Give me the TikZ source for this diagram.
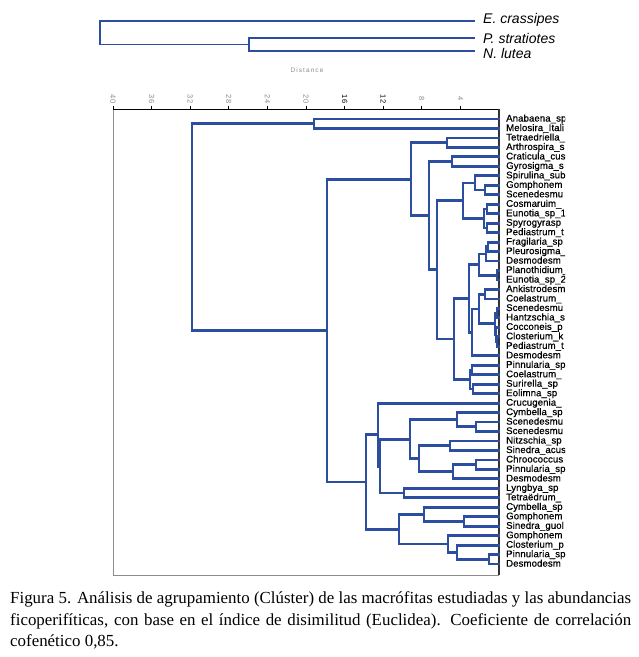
\documentclass[tikz,border=0pt]{standalone}
\usepackage{fontspec}
\setmainfont{Liberation Serif}
\newfontfamily\sansf{Liberation Sans}
\newfontfamily\leaff[LetterSpace=1,FakeBold=0.6]{Liberation Sans}
\usetikzlibrary{calc}
\definecolor{dblue}{RGB}{44,78,160}
\definecolor{axgray}{RGB}{140,140,140}
\newcommand\dn[4]{%
  \coordinate (tmpm) at ($(#3)!.5!(#4)$);
  \coordinate (tmpx) at (#2,0);
  \coordinate (#1) at (tmpx |- tmpm);
  \draw[dend] (#3) -| (#1) |- (#4);
}
\tikzset{
  dend/.style={draw=dblue, line width=2.8pt, line join=miter, line cap=rect},
  topd/.style={draw=dblue, line width=1.9pt, line cap=rect},
  leaf/.style={anchor=west, inner sep=0pt, text height=6.9pt, text depth=1.8pt, font=\leaff\fontsize{9.6}{10}\selectfont},
  toplab/.style={anchor=west, inner sep=0pt, font=\sansf\itshape\fontsize{14}{16}\selectfont},
  ticklab/.style={inner sep=0pt, text=axgray, rotate=-90, font=\sansf\fontsize{7.5}{8}\selectfont},
  capline/.style={anchor=base west, inner sep=0pt, font=\fontsize{16.9}{19}\selectfont},
}
\begin{document}
\begin{tikzpicture}[x=1pt,y=-1pt]
\useasboundingbox[fill=white] (0,0) rectangle (639,657);
% ---- top dendrogram ----
\coordinate (E) at (474,21);
\coordinate (P) at (474,38);
\coordinate (N) at (474,51);
\node[toplab] (tE) at (483,20) {E. crassipes};
\node[toplab] (tP) at (483,38) {P. stratiotes};
\node[toplab] (tN) at (483,53) {N. lutea};
\coordinate (tpx) at (249,0);
\coordinate (tpm) at ($(P)!.5!(N)$);
\coordinate (tp) at (tpx |- tpm);
\draw[topd] (P) -| (tp) |- (N);
\coordinate (trx) at (100,0);
\coordinate (trm) at ($(E)!.5!(tp)$);
\coordinate (tr) at (trx |- trm);
\draw[topd] (E) -| (tr) |- (tp);
\node[inner sep=0pt, text=axgray, font=\sansf\fontsize{6.5}{7}\selectfont] (dist) at (307,70) {D\,i\,s\,t\,a\,n\,c\,e};
% ---- frame and axis ----
\draw[axgray, line width=0.8pt] (113,109) -- (113,575) -- (499,575);
\draw[black, line width=1pt] (113,109) -- (499,109);
\draw[black!80, line width=1.2pt] (499,109) -- (499,575);
\foreach \d in {4,8,...,40} {
  \draw[black, line width=0.8pt] ({499-\d*9.65},109) -- ({499-\d*9.65},105.5);
}
\foreach \d/\c in {4/axgray,8/axgray,12/black,16/black,20/axgray,24/axgray,28/axgray,32/axgray,36/axgray,40/axgray} {
  \node[ticklab, text=\c] (tk\d) at ({499-\d*9.65},99) {\d};
}
% ---- leaves ----
\begin{scope}
\clip (503,105) rectangle (565,580);
\foreach \i/\t in {1/Anabaena\_sp,2/Melosira\_Itali,3/Tetraedriella\_,4/Arthrospira\_s,5/Craticula\_cus,6/Gyrosigma\_s,7/Spirulina\_sub,8/Gomphonem,9/Scenedesmu,10/Cosmaruim\_,11/Eunotia\_sp\_1,12/Spyrogyrasp,13/Pediastrum\_t,14/Fragilaria\_sp,15/Pleurosigma\_,16/Desmodesm,17/Planothidium\_,18/Eunotia\_sp\_2,19/Ankistrodesm,20/Coelastrum\_,21/Scenedesmu,22/Hantzschia\_s,23/Cocconeis\_p,24/Closterium\_k,25/Pediastrum\_t,26/Desmodesm,27/Pinnularia\_sp,28/Coelastrum\_,29/Surirella\_sp,30/Eolimna\_sp,31/Crucugenia\_,32/Cymbella\_sp,33/Scenedesmu,34/Scenedesmu,35/Nitzschia\_sp,36/Sinedra\_acus,37/Chroococcus,38/Pinnularia\_sp,39/Desmodesm,40/Lyngbya\_sp,41/Tetraëdrum\_,42/Cymbella\_sp,43/Gomphonem,44/Sinedra\_guol,45/Gomphonem,46/Closterium\_p,47/Pinnularia\_sp,48/Desmodesm} {
  \node[leaf] (T\i) at (506,{119+(\i-1)*9.47}) {\t};
}
\end{scope}
\foreach \i in {1,...,48} {\coordinate (L\i) at (499,{119+(\i-1)*9.47});}
% ---- tree ----
\dn{a1}{314}{L1}{L2}
\dn{b1}{447}{L3}{L4}
\dn{b2}{452}{L5}{L6}
\dn{c1}{485}{L8}{L9}
\dn{c2}{475}{L7}{c1}
\dn{c3}{487}{L10}{L11}
\dn{c4}{487}{L12}{L13}
\dn{c5}{484}{c3}{c4}
\dn{c6}{463}{c2}{c5}
\dn{d1}{488}{L14}{L15}
\dn{d2}{486}{d1}{L16}
\dn{d3}{497}{L17}{L18}
\dn{d4}{479}{d2}{d3}
\dn{e1}{485}{L19}{L20}
\dn{e2}{497}{L21}{L22}
\dn{e3}{497}{L24}{L25}
\dn{e4}{496}{L23}{e3}
\dn{e5}{495}{e2}{e4}
\dn{e6}{479}{e1}{e5}
\dn{e7}{472}{e6}{L26}
\dn{f1}{469}{d4}{e7}
\dn{g1}{472}{L27}{L28}
\dn{g2}{473}{L29}{L30}
\dn{g3}{470}{g1}{g2}
\dn{h1}{454}{f1}{g3}
\dn{h2}{437}{c6}{h1}
\dn{h3}{429}{b2}{h2}
\dn{h4}{411}{b1}{h3}
\dn{i1}{476}{L33}{L34}
\dn{i2}{457}{L32}{i1}
\dn{i3}{450}{L35}{L36}
\dn{i4}{476}{L37}{L38}
\dn{i5}{453}{i4}{L39}
\dn{i6}{419}{i3}{i5}
\dn{i7}{410}{i2}{i6}
\dn{i8}{404}{L40}{L41}
\dn{i9}{380}{i7}{i8}
\dn{i10}{378}{L31}{i9}
\dn{j1}{464}{L43}{L44}
\dn{j2}{424}{L42}{j1}
\dn{j3}{489}{L47}{L48}
\dn{j4}{457}{L46}{j3}
\dn{j5}{448}{L45}{j4}
\dn{j6}{399}{j2}{j5}
\dn{k1}{366}{i10}{j6}
\dn{k2}{327}{h4}{k1}
\dn{root}{192}{a1}{k2}
% ---- caption ----
\node[capline] (cap1) at (10,603) {\makebox[621pt][s]{Figura 5. Análisis de agrupamiento (Clúster) de las macrófitas estudiadas y las abundancias}};
\node[capline] (cap2) at (10,625) {\makebox[621pt][s]{ficoperifíticas, con base en el índice de disimilitud (Euclidea). Coeficiente de correlación}};
\node[capline] (cap3) at (10,646) {cofenético 0,85.};
\end{tikzpicture}
\end{document}
